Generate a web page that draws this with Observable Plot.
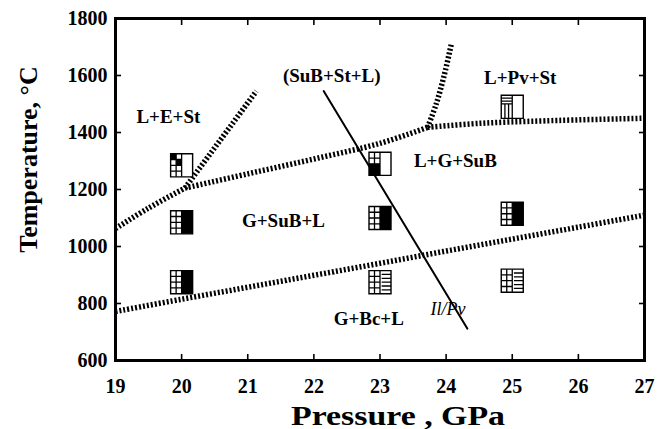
<!DOCTYPE html>
<html>
<head>
<meta charset="utf-8">
<script src="https://cdn.jsdelivr.net/npm/d3@7"></script>
<script src="https://cdn.jsdelivr.net/npm/@observablehq/plot@0.6"></script>
<style>
  body { margin: 0; background: #fff; }
  #chart svg { display: block; }
</style>
</head>
<body>
<div id="chart"></div>
<script>
// Phase boundaries: pressure (GPa) vs temperature (°C)
const solidusP = [19, 20, 21, 22, 23, 24, 25, 26, 27];
const solidusT = [772, 815, 857, 899, 941, 984, 1026, 1068, 1110];

const liquidusLowP = [19, 19.5, 20.05];
const liquidusLowT = [1063, 1135, 1205];
const liquidusMidP = [20.05, 21, 22, 23, 23.72];
const liquidusMidT = [1205, 1255, 1307, 1362, 1418];
const liquidusHighP = [23.72, 24.5, 25.5, 27];
const liquidusHighT = [1418, 1432, 1441, 1450];

const stishoviteP = [20.05, 21.13];
const stishoviteT = [1205, 1545];
const perovskiteP = [23.72, 23.85, 23.97, 24.08];
const perovskiteT = [1418, 1500, 1600, 1712];

// Ilmenite / perovskite transition
const ilPvP = [22.15, 24.32];
const ilPvT = [1545, 712];

// Run products: position and phase-assemblage glyph
const runP = [20, 20, 20, 23, 23, 23, 25, 25, 25];
const runT = [1285, 1085, 875, 1290, 1100, 875, 1490, 1115, 880];
const runKind = ["A", "B", "B", "C", "B", "D", "E", "B", "D"];

// Field labels
const fieldText = ["L+E+St", "(SuB+St+L)", "L+Pv+St", "L+G+SuB", "G+SuB+L", "G+Bc+L"];
const fieldP = [19.8, 22.27, 25.12, 24.14, 21.54, 22.83];
const fieldT = [1453, 1597, 1593, 1302, 1091, 747];
const ilPvLabel = ["Il/Pv"];
const ilPvLabelP = [24.03];
const ilPvLabelT = [779];

const xTicks = [19, 20, 21, 22, 23, 24, 25, 26, 27];
const yTicks = [600, 800, 1000, 1200, 1400, 1600, 1800];

const xTitle = "Pressure , GPa";
const yTitle = "Temperature, °C";

const toRows = (P, T, extra = {}) => P.map((p, i) => ({P: p, T: T[i], ...Object.fromEntries(Object.entries(extra).map(([k, v]) => [k, v[i]]))}));

const boundaries = [
  ...toRows(solidusP, solidusT).map(d => ({...d, id: "solidus"})),
  ...toRows(liquidusLowP, liquidusLowT).map(d => ({...d, id: "liqLow"})),
  ...toRows(liquidusMidP, liquidusMidT).map(d => ({...d, id: "liqMid"})),
  ...toRows(liquidusHighP, liquidusHighT).map(d => ({...d, id: "liqHigh"})),
  ...toRows(stishoviteP, stishoviteT).map(d => ({...d, id: "st"})),
  ...toRows(perovskiteP, perovskiteT).map(d => ({...d, id: "pv"}))
];
const transition = toRows(ilPvP, ilPvT);
const runs = toRows(runP, runT, {kind: runKind});
const fields = toRows(fieldP, fieldT, {text: fieldText});
const ilPvRows = toRows(ilPvLabelP, ilPvLabelT, {text: ilPvLabel});

// Custom glyph symbols for the run-product boxes
function rect(c, x0, y0, x1, y1) { c.moveTo(x0, y0); c.lineTo(x1, y0); c.lineTo(x1, y1); c.lineTo(x0, y1); c.closePath(); }
function seg(c, x0, y0, x1, y1) { c.moveTo(x0, y0); c.lineTo(x1, y1); }
function glyph(fn) { return {draw(c, size) { const s = Math.sqrt(size / Math.PI); fn(c, s, s * 1.05); }}; }
function leftGrid(c, w, h) {
  seg(c, -w / 2, -h, -w / 2, h);
  seg(c, 0, -h, 0, h);
  for (const y of [-h / 2, 0, h / 2]) seg(c, -w, y, 0, y);
}
const boxSymbol = glyph((c, w, h) => rect(c, -w, -h, w, h));
const solids = {
  A: glyph((c, w, h) => { rect(c, -w, -h, -w / 2, -h / 2); rect(c, -w / 2, -h / 2, 0, 0); }),
  B: glyph((c, w, h) => rect(c, 0, -h, w, h)),
  C: glyph((c, w, h) => rect(c, -w, 0, 0, h))
};
const lines = {
  A: glyph(leftGrid),
  B: glyph(leftGrid),
  C: glyph((c, w, h) => {
    seg(c, 0, -h, 0, h); seg(c, -w / 2, -h, -w / 2, 0);
    seg(c, -w, -h / 2, 0, -h / 2); seg(c, -w, 0, 0, 0);
  }),
  D: glyph((c, w, h) => {
    leftGrid(c, w, h);
    for (let k = 1; k <= 5; k++) { const y = -h + k * 2 * h / 6; seg(c, w * 0.15, y, w, y); }
  }),
  E: glyph((c, w, h) => {
    seg(c, 0, -h, 0, h);
    for (let k = 1; k <= 3; k++) { const y = -h + k * h / 4; seg(c, -w, y, 0, y); }
    seg(c, -2 * w / 3, -h / 4, -2 * w / 3, h);
    seg(c, -w / 3, -h / 4, -w / 3, h);
  })
};

const glyphMarks = [];
glyphMarks.push(Plot.dot(runs, {x: "P", y: "T", r: 11, symbol: boxSymbol, fill: "white", stroke: "black", strokeWidth: 1.4}));
for (const k of Object.keys(solids)) {
  glyphMarks.push(Plot.dot(runs.filter(d => d.kind === k), {x: "P", y: "T", r: 11, symbol: solids[k], fill: "black", stroke: "none"}));
}
for (const k of Object.keys(lines)) {
  glyphMarks.push(Plot.dot(runs.filter(d => d.kind === k), {x: "P", y: "T", r: 11, symbol: lines[k], fill: "none", stroke: "black", strokeWidth: 1.3}));
}

const chart = Plot.plot({
  width: 660,
  height: 429,
  marginLeft: 115,
  marginRight: 16,
  marginTop: 18,
  marginBottom: 69,
  style: {fontFamily: "'Liberation Serif', 'DejaVu Serif', serif", fontWeight: "bold", fontSize: "20px", background: "white", color: "black"},
  x: {domain: [19, 27]},
  y: {domain: [600, 1800]},
  marks: [
    // hatched phase boundaries
    Plot.line(boundaries, {x: "P", y: "T", z: "id", curve: "catmull-rom", stroke: "black", strokeWidth: 5.5, strokeDasharray: "2,2", strokeLinecap: "butt"}),
    // Il/Pv transition
    Plot.line(transition, {x: "P", y: "T", stroke: "black", strokeWidth: 2}),
    ...glyphMarks,
    Plot.text(fields, {x: "P", y: "T", text: "text", fontSize: 19, fontWeight: "bold"}),
    Plot.text(ilPvRows, {x: "P", y: "T", text: "text", fontSize: 18, fontStyle: "italic", fontWeight: "normal"}),
    // tick labels
    Plot.axisX({ticks: xTicks, tickSize: 0, tickPadding: 18, tickFormat: d => String(d), label: null, fontSize: 20}),
    Plot.axisY({ticks: yTicks, tickSize: 0, tickPadding: 8, tickFormat: d => String(d), label: null, fontSize: 20}),
    // inward tick marks on all four sides
    Plot.axisX({anchor: "bottom", ticks: xTicks, tickSize: 6, dy: -6, text: null, label: null, strokeWidth: 1.6}),
    Plot.axisX({anchor: "top", ticks: xTicks, tickSize: 6, dy: 6, text: null, label: null, strokeWidth: 1.6}),
    Plot.axisY({anchor: "left", ticks: yTicks, tickSize: 6, dx: 6, text: null, label: null, strokeWidth: 1.6}),
    Plot.axisY({anchor: "right", ticks: yTicks, tickSize: 6, dx: -6, text: null, label: null, strokeWidth: 1.6}),
    Plot.frame({stroke: "black", strokeWidth: 3}),
    // axis titles
    Plot.text([xTitle], {frameAnchor: "bottom", dx: 18, dy: 64, fontSize: 28, fontWeight: "bold"}),
    Plot.text([yTitle], {frameAnchor: "left", textAnchor: "middle", dx: -87, dy: -30, rotate: -90, fontSize: 26, fontWeight: "bold"})
  ]
});

// widen the pressure title to its printed width
d3.select(chart).selectAll("text")
  .filter(function () { return this.textContent === xTitle; })
  .attr("textLength", 214)
  .attr("lengthAdjust", "spacingAndGlyphs");

document.getElementById("chart").appendChild(chart);
</script>
</body>
</html>
